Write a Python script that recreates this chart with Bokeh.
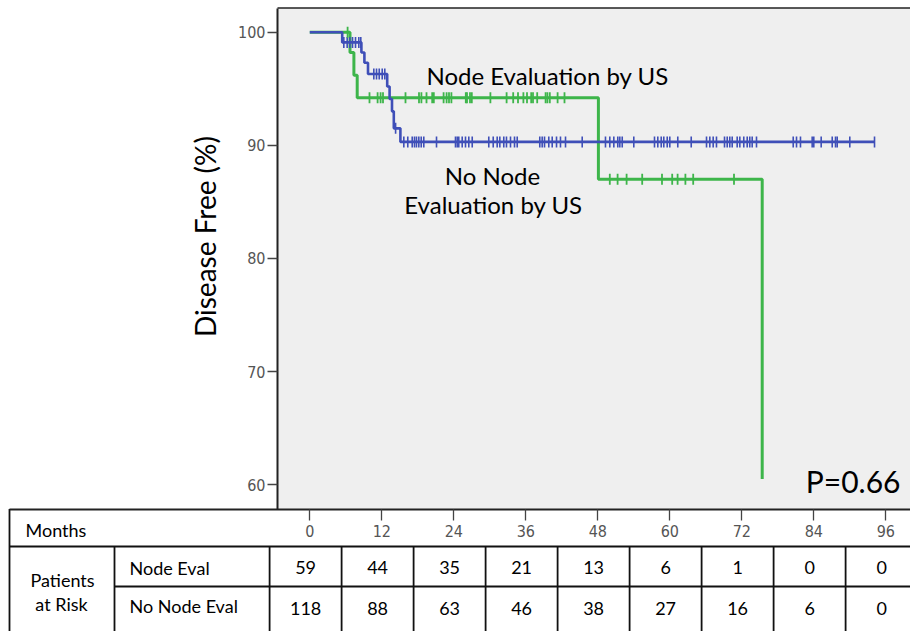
import math
from bokeh.plotting import figure
from bokeh.models import Range1d, LinearAxis, FixedTicker
from bokeh.core.properties import value
from bokeh.embed import file_html
from bokeh.resources import INLINE

# ---------------- data ----------------
month_ticks = [0, 12, 24, 36, 48, 60, 72, 84, 96]
pct_ticks = [60, 70, 80, 90, 100]

# Node Evaluation by US (green): Kaplan-Meier steps (months, % disease free)
node_t = [0, 6.7, 7.35, 7.9, 48.1, 75.4]
node_s = [100, 98.2, 96.2, 94.2, 87.0, 60.5]
node_censor = [6.3, 9.95, 11.3, 11.8, 12.2, 15.95, 18.2, 18.6, 19.45, 20.4, 20.67,
               22.3, 22.8, 23.2, 23.6, 26.0, 26.2, 26.7, 27.0, 30.1, 32.8, 33.9,
               34.7, 35.6, 36.2, 36.9, 37.2, 37.9, 39.3, 39.6, 40.0, 41.3, 42.45,
               50.0, 51.3, 52.8, 55.4, 58.7, 60.4, 61.3, 62.6, 63.9, 70.7]

# No Node Evaluation by US (blue)
nonode_t = [0, 5.4, 8.6, 9.1, 9.7, 12.9, 13.3, 13.7, 14.0, 15.1, 94.1]
nonode_s = [100, 99.1, 98.2, 97.3, 96.3, 95.2, 94.1, 93.0, 91.5, 90.3, 90.3]
nonode_censor = [5.67, 6.23, 6.67, 7.12, 7.62, 8.17, 8.5, 10.67, 11.12, 11.57, 12.07,
                 12.5, 14.3, 15.67, 16.33, 17.07, 17.45, 17.78, 18.17, 18.57, 19.0,
                 21.12, 24.28, 24.57, 24.83, 25.4, 25.95, 26.5, 27.07, 29.83, 30.57,
                 31.23, 31.67, 32.33, 32.78, 33.45, 34.12, 34.57, 38.33, 38.73, 39.12,
                 39.83, 40.4, 41.12, 41.78, 42.62, 45.4, 49.28, 50.0, 50.67, 51.33,
                 51.67, 52.07, 54.0, 57.45, 58.0, 58.57, 59.0, 59.57, 60.0, 61.33,
                 63.57, 66.12, 66.67, 67.23, 67.78, 69.12, 69.57, 70.0, 70.4, 71.23,
                 71.67, 72.33, 72.9, 73.33, 73.73, 74.45, 80.57, 81.12, 81.78, 83.73,
                 84.0, 85.23, 87.07, 87.62, 87.9, 90.0, 94.12]

row_labels = ["Node Eval", "No Node Eval"]
node_at_risk = [59, 44, 35, 21, 13, 6, 1, 0, 0]
nonode_at_risk = [118, 88, 63, 46, 38, 27, 16, 6, 0]

p_value_text = "P=0.66"
label_node = "Node Evaluation by US"
label_nonode = ["No Node", "Evaluation by US"]

# ---------------- layout helpers (picture pixels -> data) ----------------
PX0, PX_PER_MONTH = 309.3, 6.0
PY100, PY_PER_PCT = 31.7, 11.31
W, H = 910, 631


def mx(px):
    return (px - PX0) / PX_PER_MONTH


def vy(py):
    return 100 - (py - PY100) / PY_PER_PCT


def base(py, fs):
    # text anchor for a wanted baseline at picture row py (font size fs px)
    return vy(py - 0.36 * fs)


def surv_at(ts, ss, t):
    v = ss[0]
    for ti, si in zip(ts, ss):
        if ti <= t:
            v = si
    return v


FONT = "Lato"
TICK_FONT = "DejaVu Sans Condensed"

X0, X1 = mx(0), mx(W)
Y0, Y1 = vy(H), vy(0)
FR_L, FR_B, FR_T = mx(277), vy(508.5), vy(7.5)

p = figure(width=W, height=H, x_range=Range1d(X0, X1), y_range=Range1d(Y0, Y1),
           output_backend="svg", toolbar_location=None, min_border=0,
           x_axis_location=None, y_axis_location=None)
p.outline_line_color = None
p.background_fill_color = "white"
p.border_fill_color = "white"
p.xgrid.visible = False
p.ygrid.visible = False

# plot panel
p.quad(left=FR_L, right=X1 + 5, bottom=FR_B, top=FR_T, fill_color="#EFEFEF", line_color=None)
p.segment(x0=FR_L, y0=FR_T, x1=X1 + 5, y1=FR_T, line_color="#222222", line_width=1.6)

# curves
GREEN = "#3DB54A"
BLUE = "#3F4FB8"
p.step(node_t, node_s, mode="after", line_color=GREEN, line_width=3)
p.step(nonode_t, nonode_s, mode="after", line_color=BLUE, line_width=2.6)
p.scatter(nonode_censor, [surv_at(nonode_t, nonode_s, t) for t in nonode_censor],
          marker="dash", angle=math.pi / 2, size=11, line_color=BLUE, line_width=1.6)
p.scatter(node_censor, [surv_at(node_t, node_s, t) for t in node_censor],
          marker="dash", angle=math.pi / 2, size=11, line_color=GREEN, line_width=1.8)

# axes
yax = LinearAxis(fixed_location=FR_L, bounds=(FR_B, FR_T), ticker=FixedTicker(ticks=pct_ticks))
yax.axis_line_width = 2
yax.axis_line_color = "#222222"
yax.major_tick_in = 0
yax.major_tick_out = 10
yax.major_tick_line_color = "#444444"
yax.major_tick_line_width = 1.3
yax.minor_tick_line_color = None
yax.major_label_standoff = 2
yax.major_label_text_font = TICK_FONT
yax.major_label_text_font_size = "16px"
yax.major_label_text_color = "#555555"
p.add_layout(yax, "left")

xax = LinearAxis(fixed_location=FR_B, bounds=(mx(8.5), X1 + 5), ticker=FixedTicker(ticks=month_ticks))
xax.axis_line_width = 2
xax.axis_line_color = "#222222"
xax.major_tick_in = 0
xax.major_tick_out = 11
xax.major_tick_line_color = "#444444"
xax.major_tick_line_width = 1.3
xax.minor_tick_line_color = None
xax.major_label_standoff = 5
xax.major_label_text_font = TICK_FONT
xax.major_label_text_font_size = "16px"
xax.major_label_text_color = "#555555"
p.add_layout(xax, "below")

# y axis title (rotated)
p.text(x=[mx(204)], y=[vy(236)], text=["Disease Free (%)"], angle=math.pi / 2,
       text_font=value(FONT), text_font_size="28px", text_align="center",
       text_baseline="alphabetic", text_color="black")

# curve labels and p value
p.text(x=[mx(426)], y=[base(83.3, 24)], text=[label_node], text_font=value(FONT),
       text_font_size="24px", text_align="left", text_baseline="alphabetic", text_color="black")
p.text(x=[mx(492), mx(493)], y=[base(183.3, 24), base(212.3, 24)], text=label_nonode,
       text_font=value(FONT), text_font_size="24px", text_align="center",
       text_baseline="alphabetic", text_color="black")
p.text(x=[mx(900)], y=[base(491, 30)], text=[p_value_text], text_font=value(FONT),
       text_font_size="30px", text_align="right", text_baseline="alphabetic", text_color="black")

# ---------------- at-risk table ----------------
LW = 1.8
TBL_L, TBL_LAB, TBL_B = mx(9), mx(114), vy(H + 10)
ROW1_T, ROW2_T = vy(546), vy(586)
col_edges = [t - 6.7 for t in month_ticks] + [month_ticks[-1] + 12 - 6.7]

# horizontal lines
p.segment(x0=[TBL_L, TBL_LAB], y0=[ROW1_T, ROW2_T], x1=[X1 + 5, X1 + 5], y1=[ROW1_T, ROW2_T],
          line_color="#111111", line_width=LW)
# vertical lines
vx = [TBL_L, TBL_LAB] + col_edges
vtop = [vy(508.5), ROW1_T] + [ROW1_T] * len(col_edges)
p.segment(x0=vx, y0=vtop, x1=vx, y1=[TBL_B] * len(vx), line_color="#111111", line_width=LW)

FS = 18
TFS = f"{FS}px"
p.text(x=[mx(25)], y=[base(535.7, FS)], text=["Months"], text_font=value(FONT), text_font_size=TFS,
       text_align="left", text_baseline="alphabetic", text_color="black")
p.text(x=[mx(62), mx(61)], y=[base(586, FS), base(610, FS)], text=["Patients", "at Risk"],
       text_font=value(FONT), text_font_size=TFS, text_align="center",
       text_baseline="alphabetic", text_color="black")
p.text(x=[mx(129), mx(129)], y=[base(574, FS), base(612, FS)], text=row_labels,
       text_font=value(FONT), text_font_size=TFS, text_align="left",
       text_baseline="alphabetic", text_color="black")
cell_x = [t - 0.7 for t in month_ticks]
p.text(x=cell_x, y=[base(573.5, FS)] * len(cell_x), text=[str(v) for v in node_at_risk],
       text_font=value(FONT), text_font_size=TFS, text_align="center",
       text_baseline="alphabetic", text_color="black")
p.text(x=cell_x, y=[base(614.5, FS)] * len(cell_x), text=[str(v) for v in nonode_at_risk],
       text_font=value(FONT), text_font_size=TFS, text_align="center",
       text_baseline="alphabetic", text_color="black")

open("out.html", "w").write(file_html(p, INLINE))
